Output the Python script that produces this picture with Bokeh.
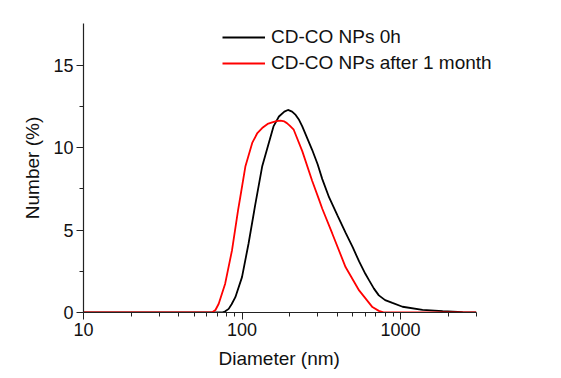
from bokeh.plotting import figure
from bokeh.models import FixedTicker, Legend, LegendItem, PrintfTickFormatter, Range1d, Title
from bokeh.embed import file_html
from bokeh.resources import INLINE

# Data
diam_0h = [10, 74.6, 78, 82.4, 86, 90.8, 100, 110, 121, 134, 147.6, 158, 171, 185, 195, 207,
           218, 229, 240, 277, 300, 321, 354, 400, 450, 500, 548, 600, 634, 680, 730, 800, 889,
           1030, 1377, 1845, 2470, 3000]
num_0h = [0, 0, 0.06, 0.22, 0.5, 0.93, 2.15, 4.19, 6.5, 8.86, 10.3, 11.3, 11.9, 12.2, 12.3, 12.2,
          12.0, 11.7, 11.3, 9.88, 9.0, 8.1, 7.0, 5.9, 4.85, 3.95, 3.1, 2.35, 1.95, 1.45, 1.04, 0.75,
          0.58, 0.35, 0.16, 0.08, 0.02, 0]

diam_1m = [10, 64.6, 68, 71.3, 78.3, 86.5, 94.4, 97.5, 105, 116, 125, 134, 145, 155, 165, 175,
           185, 192, 200, 212, 240, 277, 305, 321, 371, 450, 548, 665, 730, 790, 3000]
num_1m = [0, 0, 0.15, 0.53, 1.75, 3.78, 6.2, 7.0, 8.86, 10.3, 10.9, 11.2, 11.45, 11.55, 11.62,
          11.65, 11.6, 11.5, 11.35, 11.1, 9.8, 8.0, 6.9, 6.3, 4.8, 2.76, 1.34, 0.33, 0.1, 0, 0]

labels = ["CD-CO NPs 0h", "CD-CO NPs after 1 month"]
x_title = "Diameter (nm)"
y_title = "Number (%)"
x_major = [10, 100, 1000]
x_minor = [20, 30, 40, 50, 60, 70, 80, 90, 200, 300, 400, 500, 600, 700, 800, 900, 2000, 3000]
y_major = [0, 5, 10, 15]
y_minor = [2.5, 7.5, 12.5]

FONT = "Liberation Sans"

p = figure(x_axis_type="log", output_backend="svg", toolbar_location=None,
           frame_width=440, frame_height=289,
           min_border_left=83, min_border_top=23, min_border_right=20, min_border_bottom=5,
           x_range=Range1d(10, 5970), y_range=Range1d(0, 17.55))
p.outline_line_color = None
p.grid.visible = False
p.background_fill_color = "white"
p.border_fill_color = "white"

r0 = p.line(diam_0h, num_0h, line_color="black", line_width=1.8)
r1 = p.line(diam_1m, num_1m, line_color="#ff0000", line_width=1.8)

p.xaxis.ticker = FixedTicker(ticks=x_major, minor_ticks=x_minor)
p.xaxis.formatter = PrintfTickFormatter(format="%d")
p.xaxis.bounds = (10, 3020)
p.yaxis.ticker = FixedTicker(ticks=y_major, minor_ticks=y_minor)

for ax in (p.xaxis[0], p.yaxis[0]):
    ax.axis_line_color = "#222222"
    ax.axis_line_width = 1.2
    ax.major_tick_line_color = "#222222"
    ax.minor_tick_line_color = "#222222"
    ax.major_tick_in = 0
    ax.major_tick_out = 7
    ax.minor_tick_in = 0
    ax.minor_tick_out = 4
    ax.major_label_text_font = FONT
    ax.major_label_text_font_size = "18px"
    ax.major_label_text_color = "#111111"
    ax.axis_label_text_font = FONT
    ax.axis_label_text_font_size = "19px"
    ax.axis_label_text_font_style = "normal"
    ax.axis_label_text_color = "#111111"

p.yaxis.axis_label = y_title
p.xaxis.major_label_standoff = 3
p.yaxis.major_label_standoff = 3
p.yaxis.axis_label_standoff = 7

xt = Title(text=x_title, align="left", offset=135, standoff=14,
           text_font=FONT, text_font_size="19px", text_font_style="normal",
           text_color="#111111")
p.add_layout(xt, "below")

legend = Legend(items=[LegendItem(label=labels[0], renderers=[r0]),
                       LegendItem(label=labels[1], renderers=[r1])],
                location=(139, 238))
legend.padding = 0
legend.margin = 0
legend.border_line_alpha = 0
legend.background_fill_alpha = 0
legend.glyph_width = 43
legend.glyph_height = 20
legend.label_height = 20
legend.label_standoff = 6
legend.spacing = 4
legend.label_text_font = FONT
legend.label_text_font_size = "19px"
legend.label_text_color = "#111111"
p.add_layout(legend, "center")

open("out.html", "w").write(file_html(p, INLINE))
